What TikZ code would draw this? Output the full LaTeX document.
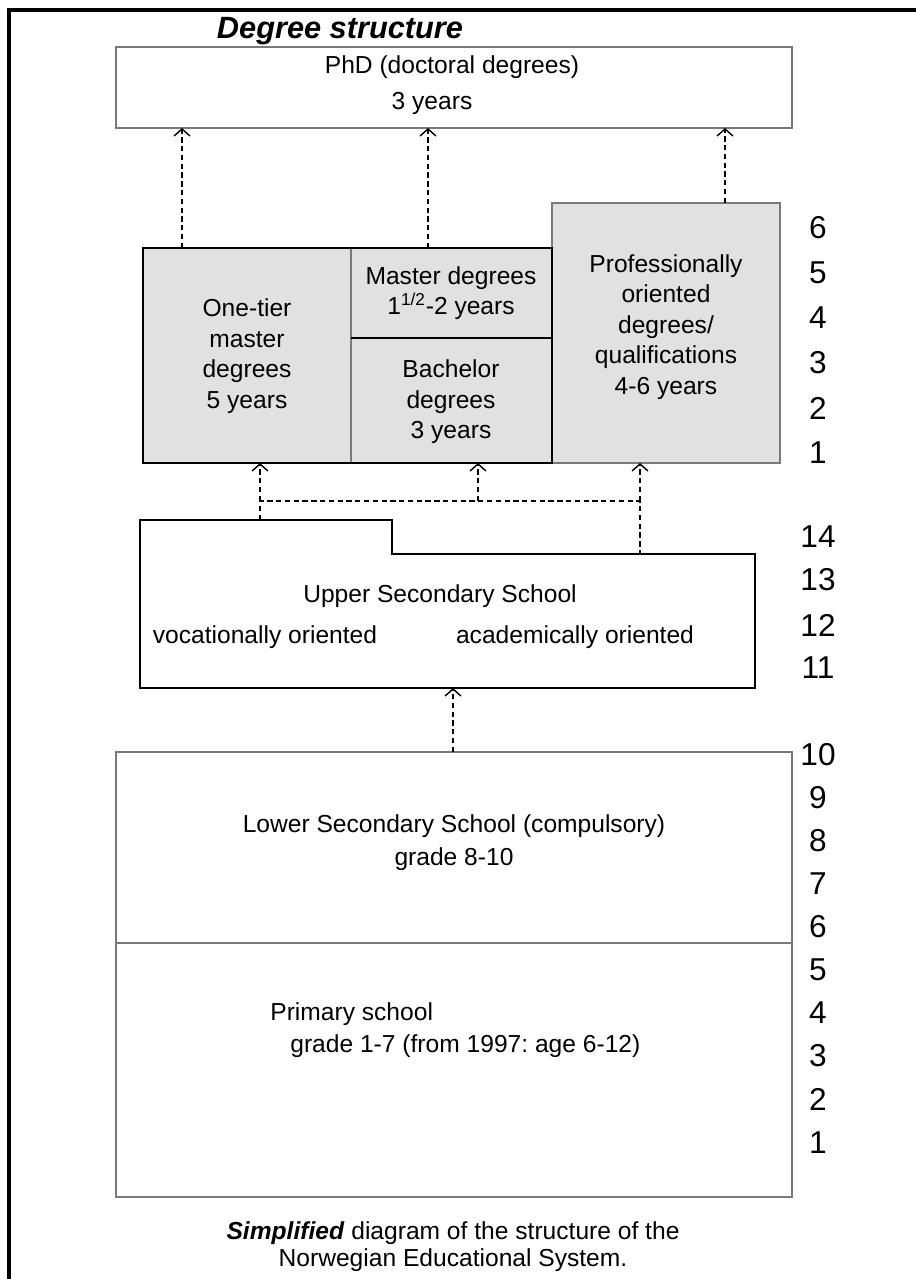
\documentclass[tikz,border=0pt]{standalone}
\usepackage{fontspec}
\setmainfont{Liberation Sans}
\frenchspacing
\usetikzlibrary{arrows.meta}
\definecolor{boxgray}{HTML}{E1E1E1}
\definecolor{edgegray}{HTML}{7A7A7A}
\tikzset{
  outline/.style={draw=edgegray,line width=0.8pt},
  heavy/.style={draw=black,line width=1.3pt},
  txt/.style={font=\fontsize{14}{17.4}\selectfont,align=center,inner sep=0pt},
  level/.style={font=\fontsize{18}{20}\selectfont,inner sep=0pt},
  link/.style={line width=0.8pt,dash pattern=on 3pt off 2pt},
  flow/.style={link,-{Straight Barb[length=4pt,width=9pt]}},
}
\begin{document}
\begin{tikzpicture}[x=0.02cm,y=-0.02cm]
  \useasboundingbox (0,0) rectangle (916,1279);
  \draw[line width=2.3pt] (9,1279) -- (9,10) -- (916,10);
  \node[font=\fontsize{17.5}{20}\selectfont\bfseries\itshape] (title) at (340,31) {Degree structure};

  % doctoral level
  \draw[outline] (116,47) rectangle (792,128);
  \coordinate (phdsw) at (116,128);
  \node[txt] (phd) at (452,67) {PhD (doctoral degrees)};
  \node[txt] (phdyears) at (432,103) {3 years};

  % higher education
  \draw[outline,fill=boxgray] (552,203) rectangle (780,463);
  \fill[boxgray] (143,248) rectangle (552,463);
  \draw[draw=edgegray,line width=0.7pt] (351,248) -- (351,463);
  \draw[line width=0.9pt] (351,338) -- (552,338);
  \draw[heavy] (143,248) rectangle (552,463);
  \coordinate (hesw) at (143,463);
  \node[txt] (onetier) at (247,356) {One-tier\\master\\degrees\\5 years};
  \node[txt] (master) at (451,293) {Master degrees\\1\textsuperscript{1/2}-2 years};
  \node[txt] (bachelor) at (451,402) {Bachelor\\degrees\\3 years};
  \node[txt] (prof) at (666,327) {Professionally\\oriented\\degrees/\\qualifications\\4-6 years};
  \coordinate (up1) at (182,248);
  \coordinate (up2) at (428,248);
  \coordinate (up3) at (725,203);
  \foreach \c in {up1,up2,up3}
    \draw[flow] (\c) -- (\c |- phdsw);

  % upper secondary
  \draw[heavy] (140,520) -- (392,520) -- (392,554) -- (755,554) -- (755,688) -- (140,688) -- cycle;
  \coordinate (join1) at (260,501);
  \coordinate (join2) at (478,501);
  \coordinate (join3) at (640,501);
  \coordinate (usleft) at (260,520);
  \coordinate (usright) at (640,554);
  \draw[link] (usleft) -- (join1) -- (join3) -- (usright);
  \foreach \c in {join1,join2,join3}
    \draw[flow] (\c) -- (\c |- hesw);
  \node[txt] (upper) at (440,596) {Upper Secondary School};
  \node[txt] (voc) at (265,637) {vocationally oriented};
  \node[txt] (acad) at (575,637) {academically oriented};

  % compulsory school
  \draw[outline] (116,752) rectangle (792,1197);
  \draw[outline] (116,943) -- (792,943);
  \coordinate (lstop) at (453,752);
  \coordinate (usbot) at (453,688);
  \draw[flow] (lstop) -- (usbot);
  \node[txt] (lower) at (454,826) {Lower Secondary School (compulsory)};
  \node[txt] (lowergrade) at (454,859) {grade 8-10};
  \node[txt,anchor=west] (primary) at (270,1014) {Primary school};
  \node[txt,anchor=west] (primarygrade) at (290,1046) {grade 1-7 (from 1997: age 6-12)};

  % year numbers
  \foreach \n/\y in {6/228,5/273,4/318,3/363,2/408,1/453}
    \node[level] (h\n) at (818,\y) {\n};
  \foreach \n/\y in {14/537,13/580,12/625,11/668}
    \node[level] (u\n) at (818,\y) {\n};
  \foreach \n/\y in {10/755,9/798,8/841,7/884,6/927,5/970,4/1013,3/1056,2/1099,1/1143}
    \node[level] (c\n) at (818,\y) {\n};

  \node[font=\fontsize{14}{16}\selectfont] (cap1) at (453,1233) {\textbf{\textit{Simplified}} diagram of the structure of the};
  \node[font=\fontsize{14}{16}\selectfont] (cap2) at (453,1260) {Norwegian Educational System.};
\end{tikzpicture}
\end{document}
